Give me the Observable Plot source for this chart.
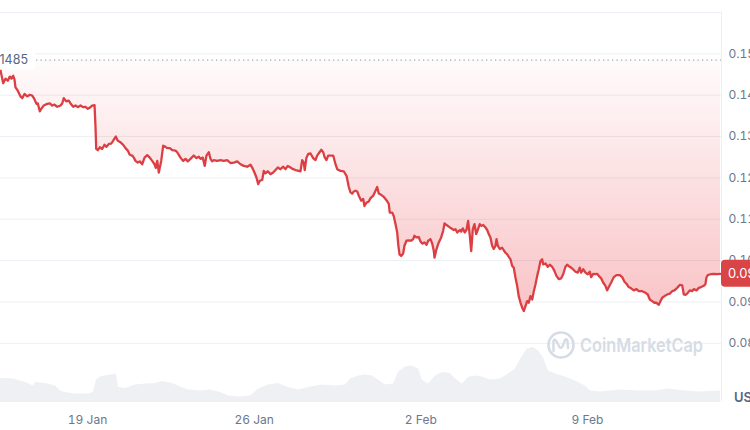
<!DOCTYPE html>
<html>
<head>
<meta charset="utf-8">
<script src="https://cdn.jsdelivr.net/npm/d3@7"></script>
<script src="https://cdn.jsdelivr.net/npm/@observablehq/plot@0.6"></script>
<style>
html,body{margin:0;padding:0;background:#fff;}
#wrap{position:relative;width:750px;height:430px;overflow:hidden;background:#fff;font-family:Inter,"Noto Sans",sans-serif;}
#wrap svg{position:absolute;left:0;top:0;overflow:visible;}
</style>
</head>
<body>
<svg width="0" height="0" style="position:absolute">
  <defs>
    <linearGradient id="redFade" x1="0" y1="0" x2="0" y2="1">
      <stop offset="0" stop-color="#ea3943" stop-opacity="0.02"/>
      <stop offset="1" stop-color="#ea3943" stop-opacity="0.30"/>
    </linearGradient>
  </defs>
</svg>
<div id="wrap"></div>
<script>
// ---------- data ----------
const startTime = "2024-01-15T08:18:00Z";   // hours below are counted from here
const endTime = "2024-02-14T15:06:00Z";
const openPrice = 0.1485;

const priceHours = [0,2.7,5,7.4,9.4,11.1,12.8,14.1,15.1,17.4,20.2,21.9,24.2,26.9,29.5,32,33.6,36.3,37.6,39.6,41,43.6,47.1,49.7,52.1,54.4,57.2,60.5,62.2,63.8,66.2,68.8,70.6,73.3,75.6,77.9,80.6,83.4,85.7,88,90.7,92.4,94.8,
95.8,96.5,98.1,100.1,102.5,104.8,106.8,109.2,111.6,113.6,116.2,118.2,121,123.7,126,128.3,130.3,132.8,134.4,136.1,138.4,140.4,142.8,145.2,147.9,150.5,152.9,155.2,156.5,158,159.6,160.6,162,164,166.3,168,170.7,
173.1,176.4,178.1,181.4,184.2,186.5,188.8,191.5,194.8,197.6,199.9,201.6,203.9,205.9,207.6,210,211.7,213.4,215,218.4,221.8,225.1,228.5,231.8,235.2,238.6,241.9,245.2,248.7,252,253.7,256,258,259.8,261.4,263.8,265.4,267.1,269.4,272.2,274.9,277.2,279.5,282.2,285,287.3,289.6,292.3,295,297.4,300.7,302.4,304.1,305.7,306.7,308.4,310.2,312.5,315.2,317.5,319.2,321.6,323.3,325.3,326.6,328.6,330.3,332.6,335.4,337.7,339.4,342.7,346,348.8,351.1,352.8,354.5,356.1,357.8,359.6,361.2,
363.6,365.6,366.9,368.9,371.2,373,375.7,378,379.7,381.3,383.7,386.4,389.1,391.4,392.4,394.8,396.4,398.2,399.9,400.9,402.2,403.9,405.9,407.2,409.2,411.6,414,416,417.3,419.3,421.6,423.4,425.1,427.4,429.4,431.1,433.4,435.2,436.8,437.5,439.5,441.8,444.2,446.2,447.6,449.6,451.9,454.3,456.9,458.6,460.4,463,464.4,466,468,469.7,471.4,473.1,474.5,476.1,477.8,479.5,481.1,483.1,484.5,486.6,488.9,490.6,492.2,493.9,495.6,497.2,499,500,501.3,503.3,505.7,507.3,509,510.8,512.4,514.1,515.8,517.4,519.1,520.8,522.4,524.2,525.9,527.5,529.2,530.9,532.5,534.2,536,537.6,
539.3,541,542.6,544.3,546,547,549.4,551.7,553.7,556.1,558.4,560.4,562.8,565.2,567.2,569.5,571.2,573.9,576.3,579.6,581.9,583.9,585.3,587.4,589.7,592,594,595.4,597.4,599.8,601.5,603.1,605.5,607.5,609.8,611.5,613.2,615.6,618.2,620.9,624.3,626.7,629,631,633.3,635.7,638.4,641.1,643.4,646.8,650.2,652.5,654.5,656.9,659.2,661.2,663.6,665.3,667,669.3,672,674.7,677.1,679.4,682.1,684.7,687.2,688.8,690.5,692.2,694.8,697.2,698.8,701.6,703.9,706.3,708.9,710.6,711.6,713,715.7,719.2,722.4,725.8];

const priceValues = [0.1460,0.1429,0.1440,0.1435,0.1445,0.1440,0.1447,0.1438,0.1419,0.1411,0.1397,0.1393,0.1403,0.1397,0.1401,0.1399,0.1393,0.1379,0.1380,0.1361,0.1367,0.1375,0.1379,0.1380,0.1375,0.1377,0.1372,0.1375,0.1380,0.1393,0.1385,0.1387,0.1380,0.1372,0.1375,0.1371,0.1375,0.1371,0.1372,0.1367,0.1371,0.1375,0.1376,
0.1322,0.1270,0.1267,0.1274,0.1270,0.1280,0.1275,0.1282,0.1283,0.1290,0.1300,0.1290,0.1286,0.1280,0.1272,0.1266,0.1256,0.1254,0.1249,0.1241,0.1237,0.1240,0.1233,0.1249,0.1255,0.1249,0.1241,0.1233,0.1224,0.1241,0.1213,0.1225,0.1241,0.1278,0.1275,0.1272,0.1272,
0.1267,0.1266,0.1262,0.1249,0.1241,0.1246,0.1240,0.1246,0.1254,0.1248,0.1251,0.1246,0.1249,0.1229,0.1254,0.1262,0.1246,0.1240,0.1243,0.1241,0.1243,0.1241,0.1243,0.1236,0.1237,0.1240,0.1233,0.1229,0.1227,0.1232,0.1225,0.1213,0.1201,0.1185,0.1193,0.1195,0.1217,0.1211,0.1216,0.1209,0.1213,0.1219,0.1225,0.1221,0.1227,0.1221,0.1229,0.1225,0.1221,0.1219,0.1217,0.1216,0.1243,0.1237,0.1219,0.1249,0.1258,0.1259,0.1248,0.1243,0.1254,0.1262,0.1268,0.1262,0.1251,0.1243,0.1254,0.1254,0.1254,0.1233,0.1221,0.1217,0.1216,0.1205,0.1178,0.1165,0.1162,0.1167,0.1169,0.1167,0.1157,
0.1145,0.1149,0.1132,0.1140,0.1143,0.1151,0.1157,0.1169,0.1178,0.1162,0.1159,0.1154,0.1146,0.1137,0.1116,0.1116,0.1108,0.1088,0.1068,0.1040,0.1015,0.1011,0.1017,0.1036,0.1048,0.1049,0.1048,0.1052,0.1060,0.1056,0.1057,0.1046,0.1041,0.1044,0.1038,0.1048,0.1052,0.1041,0.1023,0.1007,0.1028,0.1044,0.1056,0.1072,0.1090,0.1086,0.1082,0.1078,0.1074,0.1076,0.1068,0.1074,0.1070,0.1078,0.1068,0.1074,0.1096,0.1060,0.1023,0.1076,0.1088,0.1064,0.1074,0.1088,0.1084,0.1086,0.1080,0.1074,0.1064,0.1056,0.1036,0.1028,0.1036,0.1052,0.1036,0.1028,0.1031,0.1025,0.1019,0.1015,0.1009,0.1003,0.0987,0.0983,0.0959,0.0939,0.0914,0.0898,0.0886,0.0878,0.0890,0.0902,0.0898,0.0914,0.0906,0.0926,
0.0943,0.0963,0.0979,0.0999,0.1003,0.0991,0.0993,0.0985,0.0990,0.0985,0.0975,0.0963,0.0955,0.0957,0.0967,0.0985,0.0990,0.0985,0.0981,0.0973,0.0971,0.0983,0.0971,0.0979,0.0971,0.0967,0.0973,0.0960,0.0968,0.0967,0.0968,0.0963,0.0957,0.0947,0.0939,0.0928,0.0936,0.0947,0.0960,0.0965,0.0965,0.0960,0.0949,0.0944,0.0936,0.0933,0.0928,0.0931,0.0926,0.0926,0.0922,0.0918,0.0906,0.0902,0.0898,0.0898,0.0893,0.0902,0.0910,0.0914,0.0918,0.0920,0.0926,0.0928,0.0934,0.0941,0.0940,0.0918,0.0917,0.0920,0.0928,0.0926,0.0931,0.0928,0.0934,0.0936,0.0939,0.0943,0.0959,0.0965,0.0967,0.0968,0.0967,0.0968];

const volumeHours = [0,13.1,25.2,33.3,35.3,45.4,55.4,60.5,65.5,75.6,88.7,93.7,96.8,100.8,110.9,116.9,118.9,126,136.1,146.2,156.2,163.3,173.4,181.4,189.5,201.6,211.7,221.8,229.8,241.9,252,260.1,270.1,280.2,290.3,300.4,312.5,324.6,337.7,347.8,352.8,360.9,367.9,375,383,388.1,396.1,401.2,408.2,415.3,421.3,425.4,431.4,438.5,445.5,453.6,458.6,465.7,471.7,478.8,485.9,493.9,504,512.1,519.1,526.2,531.2,537.3,542.3,547.3,552.4,559.4,569.5,579.6,589.7,594.7,604.8,625,645.1,660.2,673.3,690.5,705.6,725.8];
const volumeValues = [48,47,40,33,40,38,33,23,20,17,17,20,45,51,55,57,30,28,35,37,38,42,38,31,25,23,25,20,13,11,13,27,35,38,30,25,31,35,33,35,47,53,55,53,42,35,37,60,71,73,67,45,37,53,60,58,47,37,50,53,51,45,47,57,67,93,107,110,103,90,63,57,51,43,33,23,21,25,23,23,27,23,21,23];

const yTickValues = [0.08,0.09,0.10,0.11,0.12,0.13,0.14,0.15];
const gridValues = [0.08,0.09,0.10,0.11,0.12,0.13,0.14,0.15,0.16];
const xTickDates = ["2024-01-19","2024-01-26","2024-02-02","2024-02-09"];
const xTickLabels = ["19 Jan","26 Jan","2 Feb","9 Feb"];

// ---------- build ----------
const t0 = new Date(startTime).getTime();
const toDate = h => new Date(t0 + h * 3600e3);
const price = priceHours.map((h, i) => ({date: toDate(h), price: priceValues[i]}));
const volume = volumeHours.map((h, i) => ({date: toDate(h), vol: volumeValues[i]}));
const xDomain = [new Date(startTime), new Date(endTime)];
const xTicks = xTickDates.map(s => new Date(s + "T00:00:00Z"));
const labelMap = new Map(xTicks.map((d, i) => [+d, xTickLabels[i]]));
const yDomain = [0.06575, 0.16];
const lastPrice = priceValues[priceValues.length - 1];

const wrap = document.getElementById("wrap");

const main = Plot.plot({
  width: 750, height: 430,
  marginTop: 12, marginRight: 29, marginBottom: 28.3, marginLeft: 0,
  style: {fontFamily: "Inter, sans-serif", fontSize: "12px", color: "#6b778c", background: "white", overflow: "visible"},
  x: {type: "utc", domain: xDomain, ticks: xTicks, tickFormat: d => labelMap.get(+d), tickSize: 0, tickPadding: 13, label: null},
  y: {domain: yDomain, axis: "right", ticks: yTickValues, tickFormat: d3.format(".2f"), tickSize: 0, tickPadding: 7, label: null},
  marks: [
    Plot.ruleY(gridValues, {stroke: "#eceff3", strokeWidth: 1}),
    Plot.ruleX([xDomain[1]], {stroke: "#eceff3", strokeWidth: 1}),
    Plot.areaY(price, {x: "date", y1: () => openPrice, y2: "price", fill: "url(#redFade)"}),
    Plot.ruleY([openPrice], {stroke: "#a3acbd", strokeWidth: 1.3, strokeDasharray: "1.3,3.2"}),
    Plot.lineY(price, {x: "date", y: "price", stroke: "#dc3f43", strokeWidth: 2.3, strokeLinejoin: "round"})
  ]
});
wrap.appendChild(main);

const vol = Plot.plot({
  width: 750, height: 430,
  marginTop: 342, marginRight: 29, marginBottom: 28, marginLeft: 0,
  style: {background: "transparent", overflow: "visible"},
  x: {type: "utc", domain: xDomain, axis: null},
  y: {domain: [0, 120], axis: null},
  marks: [
    Plot.areaY(volume, {x: "date", y: "vol", fill: "#eef0f4"})
  ]
});
wrap.appendChild(vol);

// ---------- overlay: open label, last-price badge, watermark, unit ----------
const ys = main.scale("y");
const yPix = d3.scaleLinear(ys.domain, ys.range);
const ov = d3.select(wrap).append("svg").attr("width", 750).attr("height", 430)
  .style("font-family", "Inter, sans-serif");

const yOpen = yPix(openPrice);
ov.append("rect").attr("x", -50).attr("y", yOpen - 10).attr("width", 85).attr("height", 20).attr("fill", "white");
ov.append("text").attr("x", 28).attr("y", yOpen).attr("text-anchor", "end").attr("dominant-baseline", "central")
  .attr("font-size", 12.5).attr("fill", "#58667e").text(d3.format(".4f")(openPrice));

const yLast = yPix(lastPrice);
ov.append("rect").attr("x", 721).attr("y", yLast - 13.5).attr("width", 50).attr("height", 27).attr("rx", 4).attr("fill", "#d94446");
ov.append("text").attr("x", 728).attr("y", yLast).attr("dominant-baseline", "central")
  .attr("font-size", 13).attr("fill", "white").text(d3.format(".5f")(lastPrice));

// watermark
const wm = ov.append("g");
wm.append("circle").attr("cx", 561).attr("cy", 345).attr("r", 12.5).attr("fill", "none").attr("stroke", "#d6dce5").attr("stroke-width", 2.6);
wm.append("path").attr("d", "M553.5,351 L553.5,341 Q554,338.5 556,340.5 L559.5,347 Q561,349 562.5,346.5 L565,340 Q566.5,338 567.5,341 L568,348")
  .attr("fill", "none").attr("stroke", "#d6dce5").attr("stroke-width", 2.4).attr("stroke-linecap", "round").attr("stroke-linejoin", "round");
wm.append("text").attr("x", 580).attr("y", 345).attr("dominant-baseline", "central")
  .attr("font-size", 19).attr("font-weight", 600).attr("fill", "#d6dce5")
  .attr("textLength", 123).attr("lengthAdjust", "spacingAndGlyphs").text("CoinMarketCap");

ov.append("text").attr("x", 734).attr("y", 397).attr("dominant-baseline", "central")
  .attr("font-size", 13).attr("font-weight", 600).attr("fill", "#58667e").text("USD");
</script>
</body>
</html>
